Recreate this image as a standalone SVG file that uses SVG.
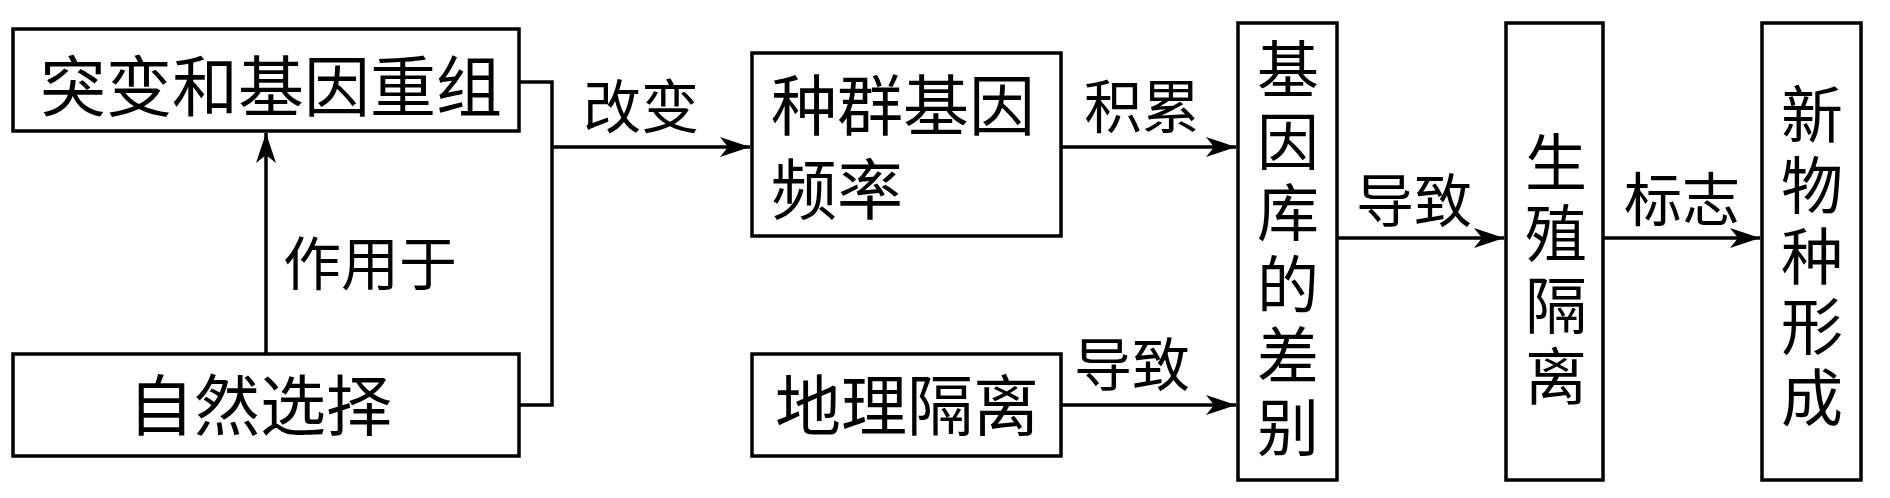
<svg xmlns="http://www.w3.org/2000/svg" width="1890" height="498" viewBox="0 0 1890 498">
<style>
.box{fill:#fff;stroke:#000;stroke-width:3.5}
.t{font-family:"Liberation Serif","Noto Sans CJK SC",serif;fill:#000;dominant-baseline:central}
.n{font-size:66px}
.v{font-size:62px;text-anchor:middle}
.l{font-size:58px}
.c{fill:none;stroke:#000;stroke-width:3.5}
</style>
<defs>
<marker id="ah" viewBox="0 0 30 20" refX="30" refY="10" markerWidth="30" markerHeight="20" markerUnits="userSpaceOnUse" orient="auto">
<path d="M0,0 L30,10 L0,20 L8,10 Z" fill="#000"/>
</marker>
</defs>
<rect width="1890" height="498" fill="#fff"/>
<g id="connectors">
<line class="c" x1="266" y1="354" x2="266" y2="133" marker-end="url(#ah)"/>
<polyline class="c" points="519,82 552,82 552,405 519,405"/>
<line class="c" x1="552" y1="147" x2="750" y2="147" marker-end="url(#ah)"/>
<line class="c" x1="1061" y1="147" x2="1236" y2="147" marker-end="url(#ah)"/>
<line class="c" x1="1061" y1="405" x2="1236" y2="405" marker-end="url(#ah)"/>
<line class="c" x1="1337" y1="238" x2="1504" y2="238" marker-end="url(#ah)"/>
<line class="c" x1="1604" y1="238" x2="1760" y2="238" marker-end="url(#ah)"/>
<text class="t l" x="283" y="265" font-size="60">作用于</text>
<text class="t l" x="583" y="108">改变</text>
<text class="t l" x="1084" y="108">积累</text>
<text class="t l" x="1074" y="366">导致</text>
<text class="t l" x="1356" y="202">导致</text>
<text class="t l" x="1624" y="201">标志</text>
</g>
<g id="n1">
<rect class="box" x="13" y="29" width="506" height="102"/>
<text class="t n" x="271" y="88" text-anchor="middle" font-size="67">突变和基因重组</text>
</g>
<g id="n2">
<rect class="box" x="13" y="354" width="506" height="102"/>
<text class="t n" x="260" y="407" text-anchor="middle">自然选择</text>
</g>
<g id="n3">
<rect class="box" x="752" y="53" width="309" height="183"/>
<text class="t n" x="771" y="107">种群基因</text>
<text class="t n" x="771" y="191">频率</text>
</g>
<g id="n4">
<rect class="box" x="752" y="354" width="309" height="102"/>
<text class="t n" x="907" y="407" text-anchor="middle">地理隔离</text>
</g>
<g id="n5">
<rect class="box" x="1238" y="23" width="99" height="457"/>
<text class="t v" x="1288" y="72">基</text>
<text class="t v" x="1288" y="144">因</text>
<text class="t v" x="1288" y="215">库</text>
<text class="t v" x="1288" y="287">的</text>
<text class="t v" x="1288" y="358">差</text>
<text class="t v" x="1288" y="430">别</text>
</g>
<g id="n6">
<rect class="box" x="1506" y="23" width="97" height="457"/>
<text class="t v" x="1556" y="165">生</text>
<text class="t v" x="1556" y="236">殖</text>
<text class="t v" x="1556" y="308">隔</text>
<text class="t v" x="1556" y="379">离</text>
</g>
<g id="n7">
<rect class="box" x="1762" y="23" width="99" height="457"/>
<text class="t v" x="1812" y="117">新</text>
<text class="t v" x="1812" y="188">物</text>
<text class="t v" x="1812" y="259">种</text>
<text class="t v" x="1812" y="329">形</text>
<text class="t v" x="1812" y="400">成</text>
</g>
</svg>
